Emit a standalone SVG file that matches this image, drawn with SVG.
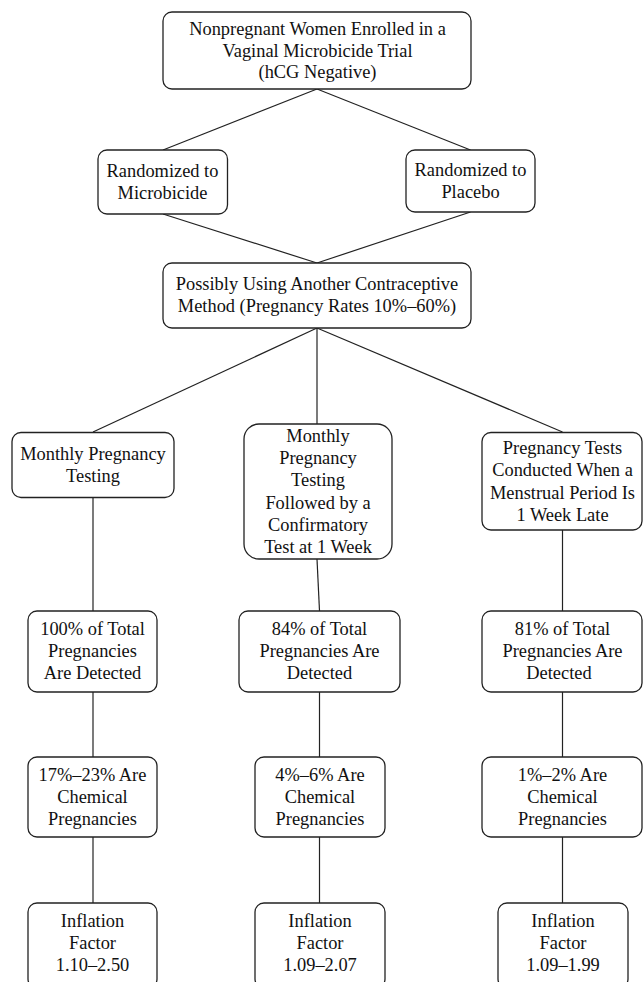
<svg xmlns="http://www.w3.org/2000/svg" width="643" height="982" viewBox="0 0 643 982">
<style>
.b{fill:#fff;stroke:#222;stroke-width:1.3}
.t{font-family:'Liberation Serif',Tinos,'Times New Roman','DejaVu Serif',serif;font-size:18.4px;fill:#111;text-anchor:middle}
.c{stroke:#222;stroke-width:1.2;fill:none}
</style>
<rect width="643" height="982" fill="#fff"/>
<g id="connectors">
<line class="c" x1="317" y1="89" x2="163" y2="150"/>
<line class="c" x1="317" y1="89" x2="470.5" y2="150"/>
<line class="c" x1="163" y1="214" x2="317" y2="263"/>
<line class="c" x1="470.5" y1="212" x2="317" y2="263"/>
<line class="c" x1="317" y1="328" x2="93" y2="432"/>
<line class="c" x1="317" y1="328" x2="317" y2="424"/>
<line class="c" x1="317" y1="328" x2="562.5" y2="432"/>
<line class="c" x1="93" y1="497" x2="93" y2="611"/>
<line class="c" x1="317" y1="559" x2="319.5" y2="611"/>
<line class="c" x1="562.5" y1="530" x2="562.5" y2="611"/>
<line class="c" x1="93" y1="692" x2="93" y2="757"/>
<line class="c" x1="319.5" y1="692" x2="319.5" y2="757"/>
<line class="c" x1="562.5" y1="692" x2="562.5" y2="757"/>
<line class="c" x1="93" y1="837" x2="93" y2="903"/>
<line class="c" x1="319.5" y1="837" x2="319.5" y2="903"/>
<line class="c" x1="562.5" y1="837" x2="562.5" y2="903"/>
</g>
<g id="n1">
<rect class="b" x="163" y="12" width="308" height="77" rx="9"/>
<text class="t" x="317.5" y="35">Nonpregnant Women Enrolled in a</text>
<text class="t" x="317.5" y="56.5">Vaginal Microbicide Trial</text>
<text class="t" x="317.5" y="78">(hCG Negative)</text>
</g>
<g id="n2">
<rect class="b" x="98" y="150" width="129.5" height="64" rx="9"/>
<text class="t" x="162.5" y="177">Randomized to</text>
<text class="t" x="162.5" y="199">Microbicide</text>
</g>
<g id="n3">
<rect class="b" x="406" y="150" width="129" height="62" rx="9"/>
<text class="t" x="470.5" y="176">Randomized to</text>
<text class="t" x="470.5" y="198">Placebo</text>
</g>
<g id="n4">
<rect class="b" x="163" y="263" width="308" height="65" rx="9"/>
<text class="t" x="317" y="290">Possibly Using Another Contraceptive</text>
<text class="t" x="317" y="312">Method (Pregnancy Rates 10%–60%)</text>
</g>
<g id="n5">
<rect class="b" x="12" y="432.5" width="162" height="65" rx="9"/>
<text class="t" x="93" y="460">Monthly Pregnancy</text>
<text class="t" x="93" y="482">Testing</text>
</g>
<g id="n6">
<rect class="b" x="244" y="424" width="148" height="135" rx="15"/>
<text class="t" x="318" y="442">Monthly</text>
<text class="t" x="318" y="464">Pregnancy</text>
<text class="t" x="318" y="486">Testing</text>
<text class="t" x="318" y="508.5">Followed by a</text>
<text class="t" x="318" y="531">Confirmatory</text>
<text class="t" x="318" y="553">Test at 1 Week</text>
</g>
<g id="n7">
<rect class="b" x="482" y="432.5" width="160" height="97.5" rx="9"/>
<text class="t" x="562.5" y="454">Pregnancy Tests</text>
<text class="t" x="562.5" y="476">Conducted When a</text>
<text class="t" x="562.5" y="498.5">Menstrual Period Is</text>
<text class="t" x="562.5" y="520.5">1 Week Late</text>
</g>
<g id="n8">
<rect class="b" x="28" y="611" width="129" height="81" rx="9"/>
<text class="t" x="92.5" y="635">100% of Total</text>
<text class="t" x="92.5" y="657">Pregnancies</text>
<text class="t" x="92.5" y="679">Are Detected</text>
</g>
<g id="n9">
<rect class="b" x="239" y="611" width="161" height="81" rx="9"/>
<text class="t" x="319.5" y="635">84% of Total</text>
<text class="t" x="319.5" y="657">Pregnancies Are</text>
<text class="t" x="319.5" y="679">Detected</text>
</g>
<g id="n10">
<rect class="b" x="482" y="611" width="160" height="81" rx="9"/>
<text class="t" x="562.5" y="635">81% of Total</text>
<text class="t" x="562.5" y="657">Pregnancies Are</text>
<text class="t" x="559" y="679">Detected</text>
</g>
<g id="n11">
<rect class="b" x="28" y="757" width="129" height="80" rx="9"/>
<text class="t" x="92.5" y="781">17%–23% Are</text>
<text class="t" x="92.5" y="803">Chemical</text>
<text class="t" x="92.5" y="825">Pregnancies</text>
</g>
<g id="n12">
<rect class="b" x="255" y="757" width="130" height="80" rx="9"/>
<text class="t" x="320" y="781">4%–6% Are</text>
<text class="t" x="320" y="803">Chemical</text>
<text class="t" x="320" y="825">Pregnancies</text>
</g>
<g id="n13">
<rect class="b" x="482" y="757" width="160" height="80" rx="9"/>
<text class="t" x="562.5" y="781">1%–2% Are</text>
<text class="t" x="562.5" y="803">Chemical</text>
<text class="t" x="562.5" y="825">Pregnancies</text>
</g>
<g id="n14">
<rect class="b" x="28" y="903" width="129" height="85" rx="9"/>
<text class="t" x="92.5" y="927">Inflation</text>
<text class="t" x="92.5" y="949">Factor</text>
<text class="t" x="92.5" y="971">1.10–2.50</text>
</g>
<g id="n15">
<rect class="b" x="255" y="903" width="130" height="85" rx="9"/>
<text class="t" x="320" y="927">Inflation</text>
<text class="t" x="320" y="949">Factor</text>
<text class="t" x="320" y="971">1.09–2.07</text>
</g>
<g id="n16">
<rect class="b" x="498" y="903" width="130" height="85" rx="9"/>
<text class="t" x="563" y="927">Inflation</text>
<text class="t" x="563" y="949">Factor</text>
<text class="t" x="563" y="971">1.09–1.99</text>
</g>
</svg>
